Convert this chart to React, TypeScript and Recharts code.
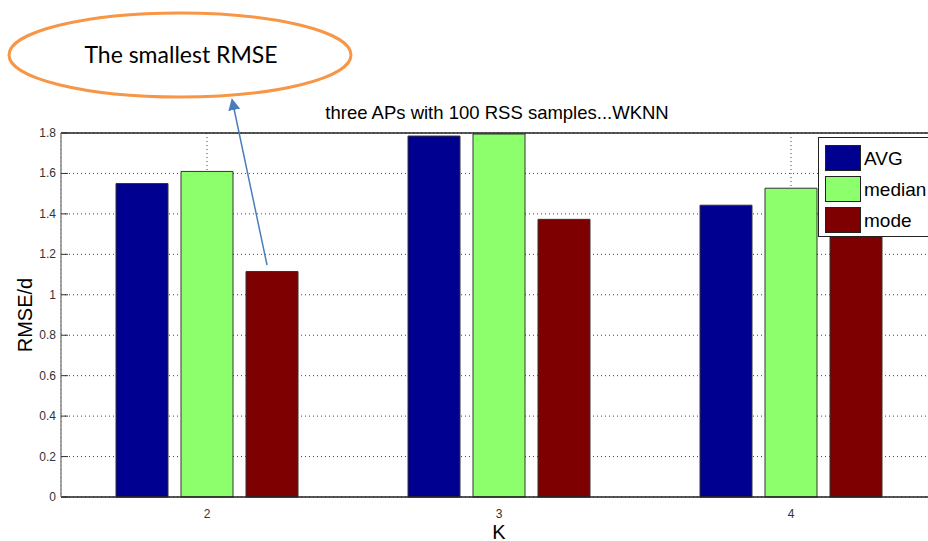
import React from 'react';
import { BarChart, Bar, XAxis, YAxis, CartesianGrid, ReferenceLine } from 'recharts';

const kValues = ['2', '3', '4'];
const avgRmse = [1.55, 1.785, 1.443];
const medianRmse = [1.61, 1.795, 1.527];
const modeRmse = [1.115, 1.373, 1.4];
const yTicks = [0, 0.2, 0.4, 0.6, 0.8, 1, 1.2, 1.4, 1.6, 1.8];

const SERIES = [
  { key: 'AVG', color: '#000090' },
  { key: 'median', color: '#8dff6d' },
  { key: 'mode', color: '#7f0000' },
];

const data = kValues.map((k, i) => ({
  K: k,
  AVG: avgRmse[i],
  median: medianRmse[i],
  mode: modeRmse[i],
}));

const FONT = '"Liberation Sans", Arial, sans-serif';

const YTick = (props: any) => {
  const { x, y, payload } = props;
  return (
    <g>
      <line x1={x + 5} x2={x + 12} y1={y} y2={y} stroke="#333" />
      <text x={x} y={y} dy={4} textAnchor="end" fontSize={12} fill="#333" fontFamily={FONT}>
        {String(payload.value)}
      </text>
    </g>
  );
};

// matlab-style legend box in the top right corner of the axes
const LegendBox = () => (
  <div
    style={{
      position: 'absolute',
      left: 818,
      top: 137,
      border: '1px solid #222',
      background: '#fff',
      padding: '7px 0 0 6px',
      width: 125,
      height: 91,
      fontFamily: FONT,
      fontSize: 19,
      lineHeight: '25px',
    }}
  >
    {SERIES.map((s) => (
      <div key={s.key} style={{ display: 'flex', alignItems: 'center', marginBottom: 5 }}>
        <span
          style={{
            width: 34,
            height: 24,
            background: s.color,
            border: '1px solid #222',
            marginRight: 3,
            display: 'inline-block',
          }}
        />
        <span style={{ color: '#000' }}>{s.key}</span>
      </div>
    ))}
  </div>
);

export default function App() {
  return (
    <div
      style={{
        position: 'absolute',
        left: 0,
        top: 0,
        width: 928,
        height: 541,
        overflow: 'hidden',
        background: '#fff',
      }}
    >
      <BarChart
        width={950}
        height={541}
        data={data}
        margin={{ top: 133, right: 13, bottom: 0, left: 0 }}
        barCategoryGap={55}
        barGap={13}
      >
        <CartesianGrid stroke="#444" strokeDasharray="1 3" />
        <XAxis
          dataKey="K"
          height={44}
          stroke="#222"
          strokeWidth={1.5}
          tickLine={false}
          tick={{ fontSize: 12, fill: '#333', fontFamily: FONT }}
          tickMargin={6}
          label={{ value: 'K', position: 'insideBottom', offset: 2, fontSize: 20, fill: '#000', fontFamily: FONT }}
        />
        <YAxis
          width={61}
          domain={[0, 1.8]}
          ticks={yTicks}
          stroke="#888"
          strokeWidth={1.5}
          tickLine={false}
          tickSize={0}
          tickMargin={5}
          tick={<YTick />}
          interval={0}
          label={{
            value: 'RMSE/d',
            angle: -90,
            position: 'insideLeft',
            offset: 25,
            fontSize: 20,
            fill: '#000',
            fontFamily: FONT,
            style: { textAnchor: 'middle' },
          }}
        />
        <ReferenceLine y={1.8} stroke="#222" strokeWidth={1.5} />
        {SERIES.map((s) => (
          <Bar key={s.key} dataKey={s.key} fill={s.color} stroke="#333" strokeWidth={1} isAnimationActive={false} />
        ))}
      </BarChart>
      <LegendBox />
      <svg
        width={928}
        height={541}
        style={{ position: 'absolute', left: 0, top: 0, pointerEvents: 'none' }}
      >
        <defs>
          <marker id="head" markerWidth="8" markerHeight="8" refX="4" refY="4" orient="auto">
            <path d="M0,0 L8,4 L0,8 z" fill="#4a7ebb" />
          </marker>
        </defs>
        <text x={497} y={119} textAnchor="middle" fontSize={18.5} fill="#000" fontFamily={FONT}>
          three APs with 100 RSS samples...WKNN
        </text>
        <ellipse cx={180} cy={55} rx={171} ry={42} fill="none" stroke="#f79646" strokeWidth={3} />
        <text x={181} y={63} textAnchor="middle" fontSize={23} fill="#000" fontFamily="Lato, 'Open Sans', sans-serif">
          The smallest RMSE
        </text>
        <line x1={267} y1={265} x2={233} y2={104} stroke="#4a7ebb" strokeWidth={1.5} markerEnd="url(#head)" />
      </svg>
    </div>
  );
}
